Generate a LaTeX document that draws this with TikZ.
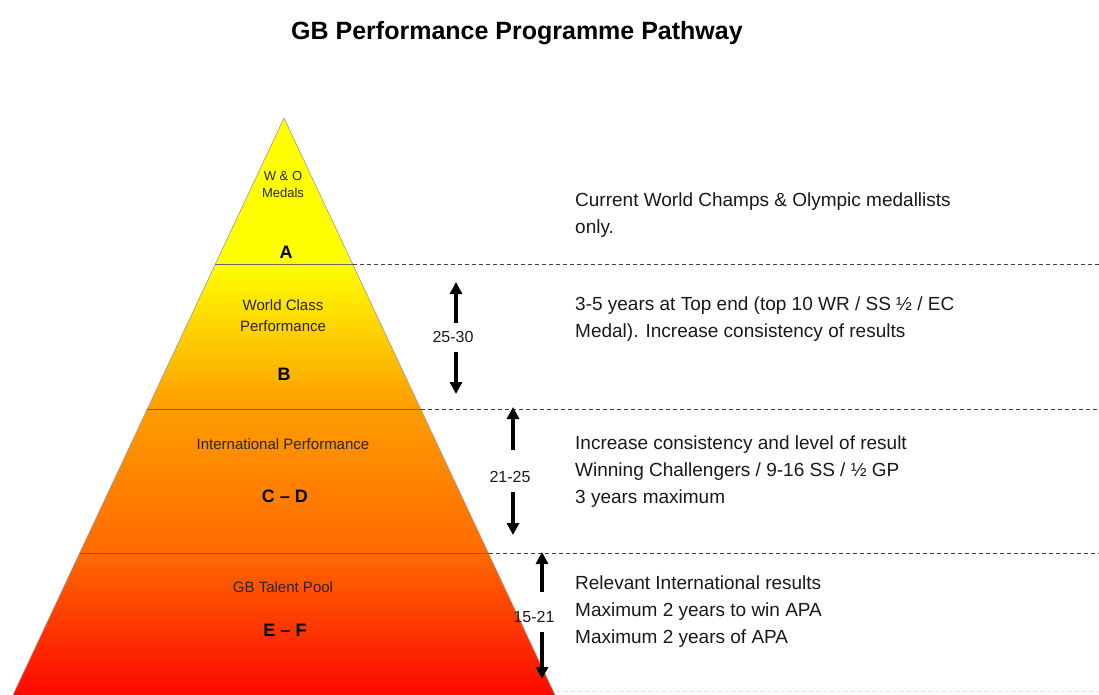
\documentclass[tikz,border=0pt]{standalone}
\usepackage{fontspec}
\setmainfont{Liberation Sans}
\usepackage{tikz}
\usetikzlibrary{arrows.meta}

\definecolor{pyrYellow}{HTML}{FFFF00}
\definecolor{pyrAmber}{HTML}{FF9C00}
\definecolor{pyrOrange}{HTML}{FF6A00}
\definecolor{pyrRed}{HTML}{FF0800}
\pgfdeclareverticalshading{pyramid}{100bp}{color(0bp)=(pyrRed); color(25bp)=(pyrRed);
  color(37.3bp)=(pyrOrange); color(49.8bp)=(pyrAmber); color(62.3bp)=(pyrYellow);
  color(75bp)=(pyrYellow); color(100bp)=(pyrYellow)}

\begin{document}
\begin{tikzpicture}[x=1pt,y=-1pt]
      \tikzstyle{edge} = [draw=black!40, line width=0.6pt]
      \tikzstyle{layer} = [draw=black!60, line width=0.9pt]
      \tikzstyle{guide} = [draw=black!75, dash pattern=on 4pt off 3pt, line width=0.9pt]
      \tikzstyle{bigarrow} = [line width=4.5pt, -{Triangle[width=12pt,length=12pt]}]
      \tikzstyle{tier} = [font=\fontsize{15}{21}\selectfont, align=center, inner sep=0, text=black!85]
      \tikzstyle{grade} = [font=\fontsize{18}{22}\selectfont\bfseries, inner sep=0]
      \tikzstyle{age} = [font=\fontsize{16}{20}\selectfont, inner sep=0, text=black!90]
      \tikzstyle{note} = [font=\fontsize{19}{27}\selectfont, align=left, anchor=north west, inner sep=0, text=black!90]
      \useasboundingbox (0,0) rectangle (1099,695);

      % pyramid outline
      \coordinate (apex) at (284,118);
      \coordinate (baseL) at (13,695);
      \coordinate (baseR) at (555,695);
      \shade[shading=pyramid] (apex) -- (baseR) -- (baseL) -- cycle;
      \draw[edge] (baseL) -- (apex) -- (baseR);

      % tier boundaries
      \coordinate (abL) at (215.4,264);   \coordinate (abR) at (352.6,264);
      \coordinate (bcL) at (147.2,409);   \coordinate (bcR) at (420.8,409);
      \coordinate (ceL) at (79.5,553);    \coordinate (ceR) at (488.5,553);
      \coordinate (abEnd) at (1099,264);
      \coordinate (bcEnd) at (1099,409);
      \coordinate (ceEnd) at (1099,553);
      \coordinate (botR) at (557,691);    \coordinate (botEnd) at (1099,691);
      \draw[layer] (abL) -- (abR);
      \draw[layer] (bcL) -- (bcR);
      \draw[layer] (ceL) -- (ceR);
      \draw[guide] (abR) -- (abEnd);
      \draw[guide] (bcR) -- (bcEnd);
      \draw[guide] (ceR) -- (ceEnd);
      \draw[guide, draw=black!12] (botR) -- (botEnd);

      % title
      \node (title) [font=\fontsize{25}{30}\selectfont\bfseries, anchor=base] at (517,40) {GB Performance Programme Pathway};

      % tier labels
      \node (tierA) [tier, font=\fontsize{13}{17}\selectfont] at (283,184.5) {W \& O\\Medals};
      \node (gradeA) [grade] at (286,252) {A};
      \node (tierB) [tier] at (283,315.5) {World Class\\Performance};
      \node (gradeB) [grade] at (284,374) {B};
      \node (tierC) [tier] at (283,444) {International Performance};
      \node (gradeC) [grade] at (285,496) {C -- D};
      \node (tierE) [tier] at (283,587) {GB Talent Pool};
      \node (gradeE) [grade] at (285,630) {E -- F};

      % age ranges
      \node (ageB) [age] at (453,337) {25-30};
      \node (ageC) [age] at (510,477) {21-25};
      \node (ageE) [age] at (534,617) {15-21};
      \coordinate (upB) at (456,282);   \coordinate (downB) at (456,394);
      \coordinate (upC) at (513,407);   \coordinate (downC) at (513,535);
      \coordinate (upE) at (542,552);   \coordinate (downE) at (542,679);
      \draw[bigarrow] ([xshift=3pt,yshift=14pt]ageB.center) -- (upB);
      \draw[bigarrow] ([xshift=3pt,yshift=-15pt]ageB.center) -- (downB);
      \draw[bigarrow] ([xshift=3pt,yshift=27pt]ageC.center) -- (upC);
      \draw[bigarrow] ([xshift=3pt,yshift=-15pt]ageC.center) -- (downC);
      \draw[bigarrow] ([xshift=8pt,yshift=25pt]ageE.center) -- (upE);
      \draw[bigarrow] ([xshift=8pt,yshift=-15pt]ageE.center) -- (downE);

      % notes
      \node (noteA) [note] at (575,187) {\strut Current World Champs \& Olympic medallists\\only.};
      \node (noteB) [note] at (575,291) {\strut 3-5 years at Top end (top 10 WR / SS ½ / EC\\Medal). Increase consistency of results};
      \node (noteC) [note] at (575,430) {\strut Increase consistency and level of result\\Winning Challengers / 9-16 SS / ½ GP\\3 years maximum};
      \node (noteE) [note] at (575,570) {\strut Relevant International results\\Maximum 2 years to win APA\\Maximum 2 years of APA};
\end{tikzpicture}
\end{document}
